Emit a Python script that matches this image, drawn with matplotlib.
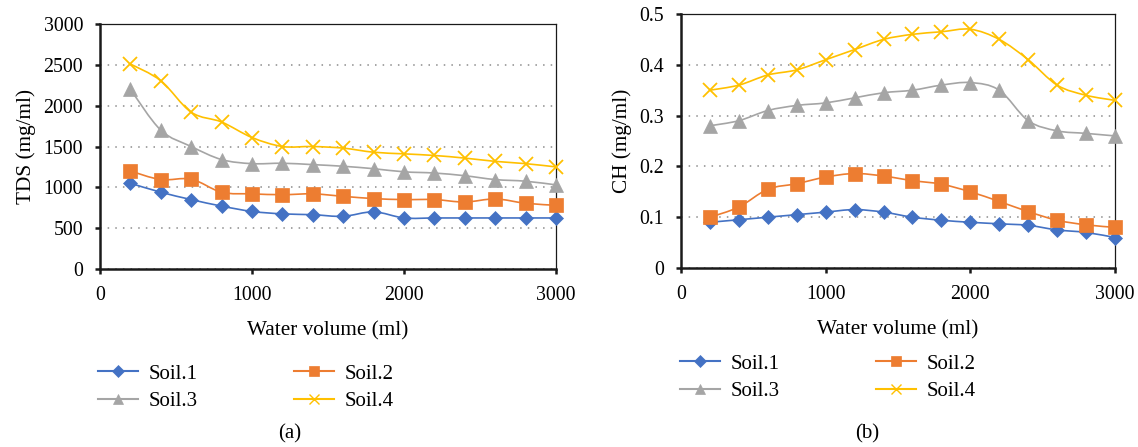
import numpy as np
import matplotlib.pyplot as plt
from matplotlib.path import Path
from matplotlib.patches import PathPatch
from matplotlib.lines import Line2D

plt.rcParams['font.family'] = ['Liberation Serif', 'DejaVu Serif']
plt.rcParams['font.size'] = 15

volume = [200, 400, 600, 800, 1000, 1200, 1400, 1600, 1800, 2000, 2200, 2400, 2600, 2800, 3000]

tds_soil1 = [1050, 940, 850, 770, 705, 675, 665, 645, 700, 625, 625, 625, 625, 625, 625]
tds_soil2 = [1200, 1095, 1100, 940, 920, 910, 920, 890, 862, 850, 850, 820, 858, 805, 780]
tds_soil3 = [2200, 1700, 1500, 1340, 1290, 1295, 1278, 1258, 1228, 1190, 1175, 1142, 1095, 1075, 1030]
tds_soil4 = [2510, 2305, 1920, 1800, 1610, 1500, 1500, 1480, 1430, 1410, 1390, 1358, 1318, 1290, 1250]

ch_soil1 = [0.090, 0.095, 0.100, 0.105, 0.110, 0.115, 0.110, 0.100, 0.094, 0.090, 0.087, 0.084, 0.075, 0.070, 0.060]
ch_soil2 = [0.100, 0.120, 0.155, 0.166, 0.179, 0.186, 0.181, 0.172, 0.165, 0.150, 0.131, 0.111, 0.094, 0.085, 0.080]
ch_soil3 = [0.280, 0.290, 0.310, 0.320, 0.325, 0.335, 0.345, 0.350, 0.360, 0.365, 0.350, 0.290, 0.270, 0.265, 0.260]
ch_soil4 = [0.350, 0.360, 0.380, 0.390, 0.410, 0.430, 0.450, 0.460, 0.465, 0.470, 0.450, 0.410, 0.360, 0.340, 0.330]

names = ['Soil.1', 'Soil.2', 'Soil.3', 'Soil.4']
colors = ['#4472C4', '#ED7D31', '#A5A5A5', '#FFC000']
markers = ['D', 's', '^', 'x']
msizes = [7.5, 9.5, 10, 10]


def smooth_line(ax, x, y, color, z):
    # excel-style smoothed line: cubic bezier through the points
    x = np.asarray(x, float)
    y = np.asarray(y, float)
    px = np.concatenate([[x[0]], x, [x[-1]]])
    py = np.concatenate([[y[0]], y, [y[-1]]])
    verts = [(x[0], y[0])]
    codes = [Path.MOVETO]
    for i in range(len(x) - 1):
        c1 = (px[i + 1] + (px[i + 2] - px[i]) / 6, py[i + 1] + (py[i + 2] - py[i]) / 6)
        c2 = (px[i + 2] - (px[i + 3] - px[i + 1]) / 6, py[i + 2] - (py[i + 3] - py[i + 1]) / 6)
        verts += [c1, c2, (x[i + 1], y[i + 1])]
        codes += [Path.CURVE4] * 3
    ax.add_patch(PathPatch(Path(verts, codes), fill=False, edgecolor=color,
                           lw=1.2, zorder=z, clip_on=False))


def draw_panel(ax, series, ymax, yticks, yticklabels, ylabel):
    for k, ys in enumerate(series):
        smooth_line(ax, volume, ys, colors[k], 3 + 2 * k)
        mew = 1.3 if markers[k] == 'x' else 0.5
        ax.plot(volume, ys, linestyle='none', marker=markers[k], ms=msizes[k],
                color=colors[k], mec=colors[k], mew=mew, zorder=4 + 2 * k, clip_on=False)
    ax.set_xlim(0, 3000)
    ax.set_ylim(0, ymax)
    ax.set_xticks([0, 1000, 2000, 3000])
    ax.set_yticks(yticks)
    ax.set_yticklabels(yticklabels)
    ax.yaxis.grid(True, linestyle=(0, (1, 4)), color='#8c8c8c', lw=1.1, zorder=0)
    ax.set_axisbelow(True)
    for s in ['left', 'bottom']:
        ax.spines[s].set_linewidth(1.8)
        ax.spines[s].set_color('#1a1a1a')
    for s in ['top', 'right']:
        ax.spines[s].set_linewidth(0.9)
        ax.spines[s].set_color('#1a1a1a')
    ax.tick_params(direction='out', length=3.6, width=1.8, color='#1a1a1a',
                   pad=8.5, labelsize=14.3)
    ax.set_xlabel('Water volume (ml)', labelpad=11.5, fontsize=15.3)
    ax.set_ylabel(ylabel, labelpad=5.5, fontsize=15.3)


def legend_handles():
    hs = []
    for k in range(4):
        mew = 1.0 if markers[k] == 'x' else 0.5
        hs.append(Line2D([], [], color=colors[k], lw=1.5, marker=markers[k],
                         ms=msizes[k] * 0.75, mec=colors[k], mew=mew))
    order = [0, 2, 1, 3]
    return [hs[i] for i in order], [names[i] for i in order]


fig = plt.figure(figsize=(11.38, 4.47), dpi=100)
W, H = 1138, 447
ax1 = fig.add_axes([100 / W, (H - 269) / H, (556 - 100) / W, (269 - 24) / H])
ax2 = fig.add_axes([681 / W, (H - 268) / H, (1115 - 681) / W, (268 - 14) / H])

draw_panel(ax1, [tds_soil1, tds_soil2, tds_soil3, tds_soil4], 3000,
           [0, 500, 1000, 1500, 2000, 2500, 3000],
           ['0', '500', '1000', '1500', '2000', '2500', '3000'], 'TDS (mg/ml)')
draw_panel(ax2, [ch_soil1, ch_soil2, ch_soil3, ch_soil4], 0.5,
           [0, 0.1, 0.2, 0.3, 0.4, 0.5],
           ['0', '0.1', '0.2', '0.3', '0.4', '0.5'], 'CH (mg/ml)')

hs, ls = legend_handles()
for x0, y0 in [(98, 364), (680, 354)]:
    fig.legend(hs, ls, ncol=2, loc='upper left', bbox_to_anchor=(x0 / W, (H - y0) / H),
               frameon=False, borderpad=0, handlelength=1.9, handletextpad=0.55,
               columnspacing=4.6, labelspacing=0.37, borderaxespad=0)

fig.text(290 / W, (H - 434) / H, '(a)', ha='center', va='center')
fig.text(867 / W, (H - 434) / H, '(b)', ha='center', va='center')

fig.savefig('out.png', dpi=100)
